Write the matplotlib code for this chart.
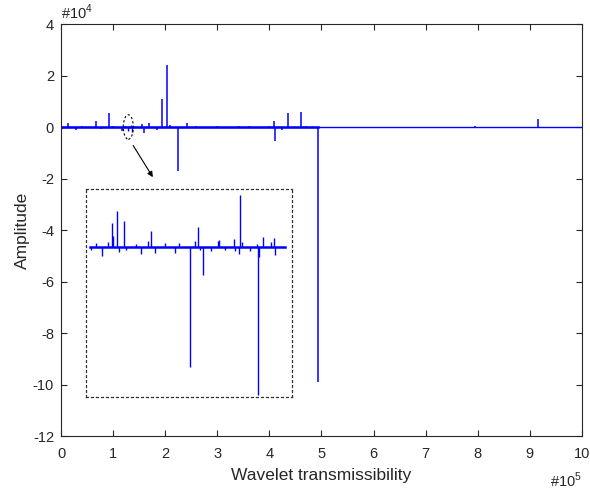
import numpy as np
import matplotlib
matplotlib.use("Agg")
import matplotlib.pyplot as plt
from matplotlib.patches import Ellipse
from matplotlib.ticker import FuncFormatter

plt.rcParams['font.family'] = ['Liberation Sans', 'DejaVu Sans']
plt.rcParams['mathtext.fontset'] = 'custom'
plt.rcParams['mathtext.rm'] = 'Liberation Sans'

# main signal: sparse spikes (position, amplitude)
spike_x = [2500, 12900, 28200, 40000, 50000, 66600, 76800, 92100, 100000,
           116500, 154900, 158700, 169500, 183700, 193200, 202800, 210000,
           224600, 230000, 242400, 260000, 280000, 300000, 320000, 341600,
           360000, 380000, 400000, 409700, 410700, 423600, 436300, 440000,
           460000, 470000, 493900, 795000, 915000]
spike_y = [-880, 1420, -1150, 500, -400, 2420, -880, 5500, 300,
           -1420, 1150, -2420, 1420, -1150, 11000, 24200, 800,
           -17000, -500, 1420, 400, -300, 300, -300, 400,
           300, -300, 400, 2420, -5270, -1150, 5270, -400,
           5880, 300, -99000, 300, 3300]

# zoomed segment shown in the inset
zoom_x = [120090, 120550, 121130, 121690, 121990, 122150, 122510, 122670,
          123160, 123280, 124200, 124720, 125370, 125580, 125980, 126960,
          127820, 128190, 129230, 129720, 129960, 130120, 130460, 131190,
          131800, 131900, 132480, 133280, 133370, 133710, 133860, 134010,
          134720, 135420, 135480, 135580, 135940, 136710, 136960, 137050,
          137480]
zoom_y = [-32, 44, -116, 56, 288, 128, 432, -64,
          312, -32, 32, -92, 68, 192, -80, 48,
          -76, 44, -1456, 76, 236, -44, -344, -56,
          76, 84, -32, 96, -56, -92, 624, 56,
          -56, 36, -1792, -128, 116, 64, 104, -100,
          -4]

blue = (0, 0, 1)
axcol = '#262626'

fig = plt.figure(figsize=(5.9, 4.93), dpi=100)
ax = fig.add_axes([0.1034, 0.1156, 0.883, 0.8357])

ax.plot([0, 1e6], [0, 0], color=blue, lw=1.0)
ax.plot([0, 493900], [0, 0], color=blue, lw=1.8)
ax.vlines(spike_x, 0, spike_y, color=blue, lw=1.1)
ax.vlines(zoom_x, 0, zoom_y, color=blue, lw=1.0)

ax.set_xlim(0, 1e6)
ax.set_ylim(-12e4, 4e4)
ax.set_xticks(np.arange(0, 1e6 + 1, 1e5))
ax.set_yticks(np.arange(-12e4, 4e4 + 1, 2e4))
ax.xaxis.set_major_formatter(FuncFormatter(lambda v, p: '%g' % (v / 1e5)))
ax.yaxis.set_major_formatter(FuncFormatter(lambda v, p: '%g' % (v / 1e4)))
ax.tick_params(direction='in', length=4.5, width=0.8, top=True, right=True,
               labelsize=10.5, colors=axcol)
ax.tick_params(axis='x', pad=8)
ax.tick_params(axis='y', pad=5)
for s in ax.spines.values():
    s.set_color(axcol)
    s.set_linewidth(0.8)

ax.set_xlabel('Wavelet transmissibility', fontsize=12.5, color=axcol, labelpad=5)
ax.set_ylabel('Amplitude', fontsize=12.5, color=axcol, labelpad=2)
ax.text(0.0, 1.005, r'#10$^{4}$', transform=ax.transAxes, ha='left',
        va='bottom', fontsize=10.5, color=axcol)
ax.text(1.0, -0.083, r'#10$^{5}$', transform=ax.transAxes, ha='right',
        va='top', fontsize=10.5, color=axcol)

# dashed ellipse marking the zoomed region and the arrow
ax.add_patch(Ellipse((129200, 0), 19200, 9500, fill=False, ls=(0, (2, 2)),
                     lw=0.8, color='k', zorder=5))
ax.annotate('', xy=(179100, -20400), xytext=(135700, -6270),
            arrowprops=dict(arrowstyle='-|>', color='k', lw=0.8,
                            mutation_scale=8))

# inset
ins = ax.inset_axes([48000, -104700, 395000, 80700], transform=ax.transData)
ins.plot([120000, 138000], [0, 0], color=blue, lw=1.8)
ins.vlines(zoom_x, 0, zoom_y, color=blue, lw=1.0)
ins.set_xlim(119630, 138610)
ins.set_ylim(-1816, 704)
ins.set_xticks([])
ins.set_yticks([])
for s in ins.spines.values():
    s.set_linestyle((0, (1.5, 2.5)))
    s.set_linewidth(0.9)
    s.set_color('#333333')

fig.savefig('out.png', dpi=100)
